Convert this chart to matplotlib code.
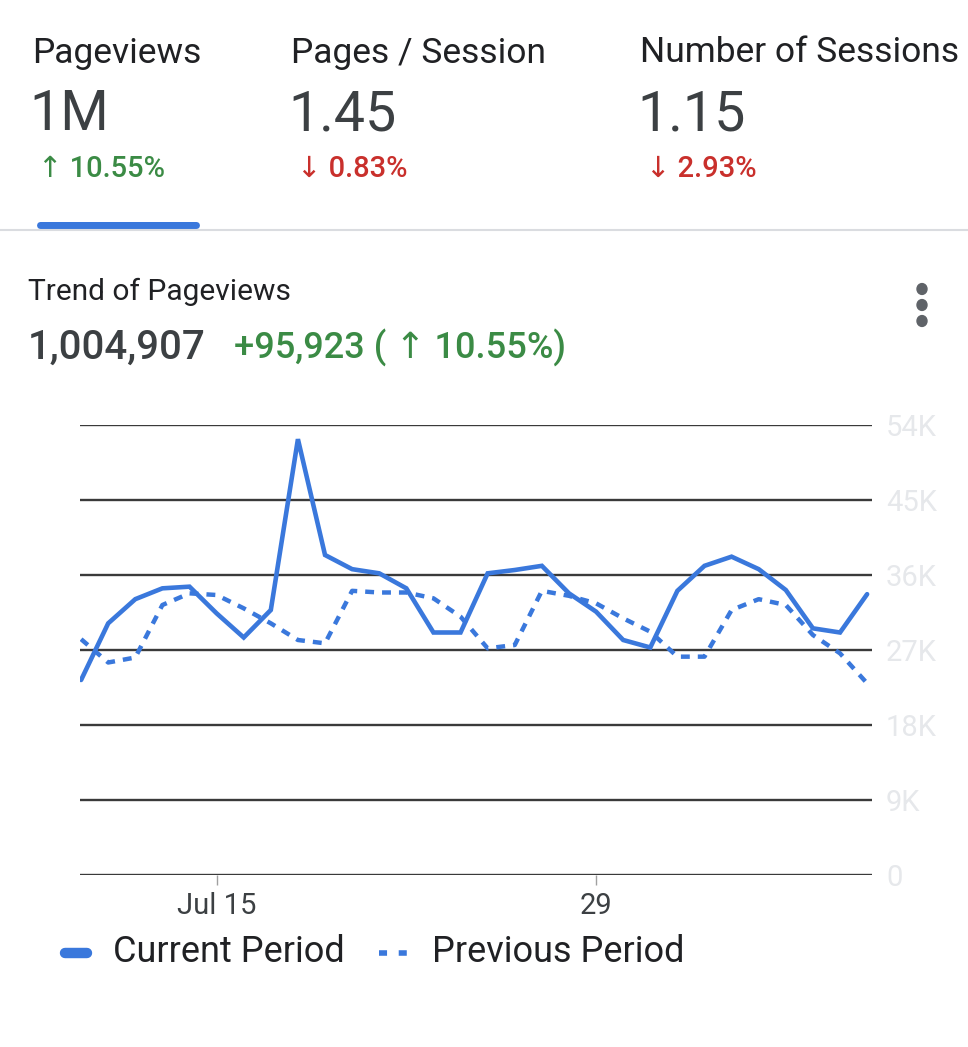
import matplotlib
matplotlib.use("Agg")
import matplotlib.pyplot as plt
from matplotlib.patches import FancyBboxPatch
from matplotlib.lines import Line2D

plt.rcParams['font.family'] = ['Roboto', 'DejaVu Sans']

# ---- data ----
dates = ["Jul 10", "Jul 11", "Jul 12", "Jul 13", "Jul 14", "Jul 15", "Jul 16", "Jul 17",
         "Jul 18", "Jul 19", "Jul 20", "Jul 21", "Jul 22", "Jul 23", "Jul 24", "Jul 25",
         "Jul 26", "Jul 27", "Jul 28", "Jul 29", "Jul 30", "Jul 31", "Aug 1", "Aug 2",
         "Aug 3", "Aug 4", "Aug 5", "Aug 6", "Aug 7", "Aug 8"]
current_period = [23.4, 30.2, 33.1, 34.4, 34.6, 31.4, 28.5, 31.8, 52.3, 38.4,
                  36.7, 36.2, 34.4, 29.1, 29.1, 36.2, 36.6, 37.1, 33.8, 31.6,
                  28.2, 27.3, 34.1, 37.1, 38.2, 36.7, 34.2, 29.6, 29.1, 33.7]
previous_period = [28.3, 25.5, 26.1, 32.4, 33.8, 33.6, 32.0, 30.2, 28.2, 27.8,
                   34.1, 33.9, 33.9, 33.2, 31.0, 27.2, 27.6, 34.1, 33.5, 32.6,
                   30.8, 29.2, 26.2, 26.2, 31.8, 33.1, 32.4, 28.8, 26.6, 23.0]
y_ticks = [0, 9, 18, 27, 36, 45, 54]
y_tick_labels = ["0", "9K", "18K", "27K", "36K", "45K", "54K"]
x_tick_idx = [5, 19]
x_tick_labels = ["Jul 15", "29"]

kpi_names = ["Pageviews", "Pages / Session", "Number of Sessions"]
kpi_values = ["1M", "1.45", "1.15"]
kpi_changes = ["\u2191 10.55%", "\u2193 0.83%", "\u2193 2.93%"]
kpi_up = [True, False, False]

BLUE = "#3a78dc"
GREEN = "#3b8b45"
RED = "#c9302c"
DARK = "#202124"
GRAY = "#3c4043"

W, H = 968, 1047
fig = plt.figure(figsize=(W / 100, H / 100), dpi=100)
fig.patch.set_facecolor("white")

def fx(px):
    return px / W

def fy(py):
    return 1 - py / H

# ---- KPI header ----
kpi_x = [32, 291, 640]
for i in range(3):
    fig.text(fx(kpi_x[i]), fy(53), kpi_names[i], fontsize=25.5, color=DARK,
             ha="left", va="center")
    fig.text(fx(kpi_x[i] - 3), fy(115), kpi_values[i], fontsize=40, color=GRAY,
             ha="left", va="center")
    fig.text(fx(kpi_x[i] + 6), fy(169), kpi_changes[i], fontsize=21,
             color=GREEN if kpi_up[i] else RED, ha="left", va="center",
             fontweight="medium")

# tab indicator and separator
fig.patches.append(FancyBboxPatch((fx(37), fy(229)), fx(163), 7 / H,
                                  boxstyle="round,pad=0,rounding_size=0.004",
                                  transform=fig.transFigure, facecolor=BLUE,
                                  edgecolor="none"))
fig.add_artist(Line2D([0, 1], [fy(230), fy(230)], transform=fig.transFigure,
                      color="#dadce0", linewidth=1.5))

# ---- card title ----
fig.text(fx(28), fy(292), "Trend of Pageviews", fontsize=21.5, color=DARK,
         ha="left", va="center")
fig.text(fx(28), fy(348), "1,004,907", fontsize=29, color=GRAY,
         ha="left", va="center", fontweight="medium")
fig.text(fx(234), fy(348), "+95,923 ( \u2191 10.55%)", fontsize=26, color=GREEN,
         ha="left", va="center", fontweight="medium")
for yy in (289, 305, 321):
    fig.add_artist(plt.Circle((fx(922), fy(yy)), 5 / W, transform=fig.transFigure,
                              color="#5f6368"))

# ---- chart ----
ax = fig.add_axes([fx(80), fy(875), fx(872 - 80), (875 - 425) / H])
x = list(range(len(dates)))
ax.plot(x, current_period, color=BLUE, linewidth=3.3, solid_joinstyle="miter",
        solid_capstyle="round", zorder=3)
ax.plot(x, previous_period, color=BLUE, linewidth=3.2,
        linestyle=(0, (2.0, 1.8)), zorder=3)
ax.set_ylim(0, 54)
ax.set_xlim(-0.04, 29.18)
ax.set_yticks(y_ticks)
ax.set_yticklabels(y_tick_labels)
ax.yaxis.tick_right()
ax.tick_params(axis="y", length=0, pad=10, labelsize=21, labelcolor="#e6e8eb")
ax.set_xticks(x_tick_idx)
ax.set_xticklabels(x_tick_labels)
ax.tick_params(axis="x", length=7, width=1, color="#a0a0a0", pad=5,
               labelsize=21, labelcolor=GRAY)
ax.grid(axis="y", color="#3a3a3a", linewidth=1.7, zorder=1)
ax.set_axisbelow(True)
for s in ax.spines.values():
    s.set_visible(False)
ax.set_facecolor("white")

# ---- legend ----
fig.add_artist(Line2D([fx(65), fx(87)], [fy(953), fy(953)], transform=fig.transFigure,
                      color=BLUE, linewidth=7.5, solid_capstyle="round"))
fig.text(fx(113), fy(952), "Current Period", fontsize=26, color=DARK,
         ha="left", va="center")
fig.add_artist(Line2D([fx(379), fx(407)], [fy(953), fy(953)], transform=fig.transFigure,
                      color=BLUE, linewidth=4, solid_capstyle="butt",
                      dash_capstyle="butt", linestyle=(0, (1.45, 2.1))))
fig.text(fx(432), fy(952), "Previous Period", fontsize=26, color=DARK,
         ha="left", va="center")

fig.savefig("out.png", dpi=100, facecolor="white")
